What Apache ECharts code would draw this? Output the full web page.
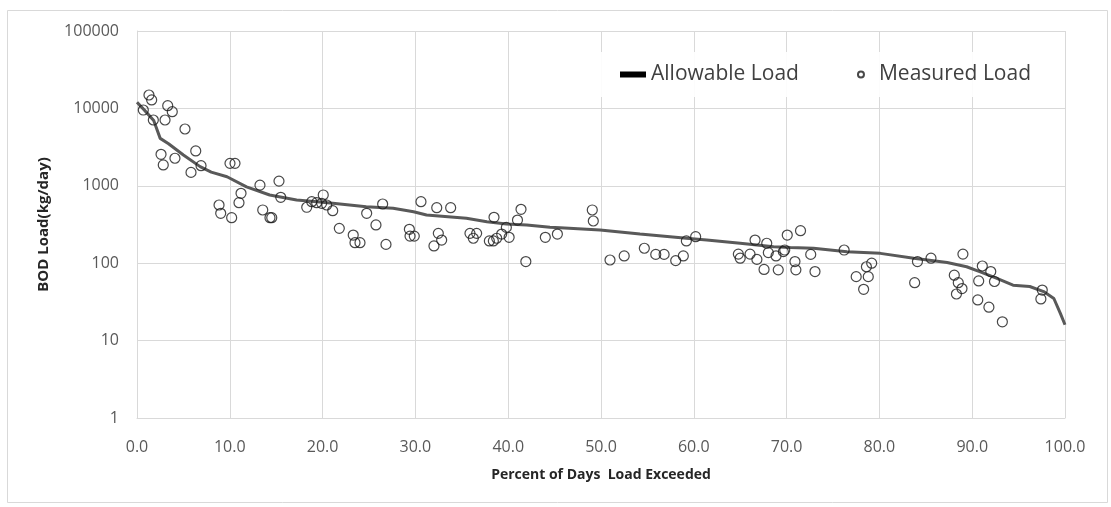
<!DOCTYPE html>
<html>
<head>
<meta charset="utf-8">
<script src="https://cdn.jsdelivr.net/npm/echarts@6/dist/echarts.min.js"></script>
<style>
html,body{margin:0;padding:0;background:#fff;}
#chart{width:1111px;height:507px;}
</style>
</head>
<body>
<div id="chart"></div>
<script>
// Allowable load curve (percent of days exceeded, kg/day)
var allowX = [0, 0.8, 1.8, 2.5, 3.4, 5.0, 6.8, 8.0, 9.7, 11.8, 14.3, 17.2, 19.4, 21.1, 24.7, 27.6, 29.8, 31.2, 35.5, 37.7, 39.8, 42.0, 44.5, 45.6, 49.9, 54.2, 59.2, 61.4, 65.0, 68.6, 70.4, 72.9, 76.5, 80.1, 83.7, 87.3, 89.4, 90.8, 92.6, 94.4, 96.2, 97.7, 98.8, 99.5, 100];
var allowY = [12000, 9500, 7000, 4100, 3500, 2500, 1770, 1500, 1310, 970, 760, 656, 623, 594, 537, 512, 463, 419, 380, 344, 321, 312, 291, 288, 268, 238, 210, 199, 181, 163, 160, 156, 141, 134, 116, 102, 90, 78, 64, 52, 50, 43, 35, 22.5, 16];

// Measured load points
var measX = [1.29, 1.58, 0.68, 3.31, 3.80, 1.76, 3.02, 5.17, 2.59, 2.83, 4.09, 6.33, 6.90, 5.82, 10.02, 10.56, 13.25, 15.30, 11.21, 10.99, 8.84, 9.02, 10.20, 13.55, 14.33, 14.52, 15.49, 18.29, 18.83, 19.36, 19.90, 20.07, 20.44, 21.09, 21.80, 23.30, 23.49, 24.03, 24.75, 25.75, 26.47, 26.83, 29.35, 29.42, 29.88, 30.60, 32.30, 32.47, 32.83, 32.00, 33.80, 35.88, 36.24, 36.60, 37.97, 38.40, 38.76, 39.30, 38.47, 39.80, 40.10, 41.00, 41.38, 41.90, 44.00, 45.30, 49.06, 49.17, 50.97, 52.50, 54.67, 55.90, 56.80, 58.05, 58.87, 59.20, 60.20, 64.80, 65.00, 66.06, 66.60, 66.80, 67.57, 67.86, 68.03, 68.86, 69.10, 69.65, 69.80, 70.07, 70.90, 71.00, 71.50, 72.60, 73.06, 76.20, 77.50, 78.30, 78.60, 78.80, 79.17, 83.80, 84.10, 85.56, 89.00, 88.07, 88.50, 88.90, 88.30, 91.09, 92.00, 90.70, 92.40, 90.60, 91.80, 93.25, 97.55, 97.40];
var measY = [14900, 12850, 9530, 10840, 9070, 7080, 7080, 5420, 2550, 1860, 2270, 2820, 1820, 1490, 1950, 1950, 1020, 1150, 800, 605, 565, 441, 387, 487, 387, 387, 710, 528, 623, 605, 594, 761, 565, 477, 282, 231, 184, 184, 441, 312, 582, 175, 274, 224, 224, 623, 521, 243, 199, 167, 521, 243, 210, 243, 194, 194, 210, 238, 392, 290, 216, 361, 497, 105, 216, 238, 487, 351, 110, 124, 156, 130, 130, 108, 124, 194, 220, 131, 116, 131, 199, 112, 83, 181, 137, 124, 82, 141, 148, 231, 105, 82, 263, 130, 78, 148, 67, 46, 90, 67, 100, 56, 105, 116, 131, 70, 56, 47, 40, 92, 78, 59, 58, 33.5, 27, 17.5, 45, 34.5];

var xTicks = [0, 10, 20, 30, 40, 50, 60, 70, 80, 90, 100];

var allowData = allowX.map(function (x, i) { return [x, allowY[i]]; });
var measData = measX.map(function (x, i) { return [x, measY[i]]; });

var chart = echarts.init(document.getElementById('chart'), null, {renderer: 'canvas'});
var labelFont = '"Open Sans", "Liberation Sans", sans-serif';
chart.setOption({
  animation: false,
  backgroundColor: '#ffffff',
  graphic: [{
    type: 'rect', left: 5, top: 8, z: -1,
    shape: {width: 1100, height: 492},
    style: {fill: 'none', stroke: '#d9d9d9', lineWidth: 1}
  }],
  grid: {left: 137, right: 46, top: 31, bottom: 89, containLabel: false},
  legend: {
    left: 600, top: 52,
    padding: [12, 20],
    backgroundColor: 'rgba(255,255,255,0.92)',
    itemWidth: 26, itemHeight: 6, itemGap: 58,
    textStyle: {fontFamily: labelFont, fontSize: 21, color: '#404040'},
    data: [
      {name: 'Allowable Load', icon: 'rect', itemStyle: {color: '#000000', borderWidth: 0}},
      {name: 'Measured Load', icon: 'circle'}
    ]
  },
  xAxis: {
    type: 'value', min: 0, max: 100, interval: 10,
    name: 'Percent of Days  Load Exceeded',
    nameLocation: 'middle', nameGap: 50,
    nameTextStyle: {fontFamily: labelFont, fontSize: 14, fontWeight: 'bold', color: '#262626'},
    axisLine: {show: true, lineStyle: {color: '#d9d9d9', width: 1}},
    axisTick: {show: false},
    axisLabel: {
      margin: 21, fontFamily: labelFont, fontSize: 16, color: '#595959',
      formatter: function (v) { return xTicks.indexOf(v) >= 0 ? v.toFixed(1) : ''; }
    },
    splitLine: {show: true, lineStyle: {color: '#d9d9d9', width: 1}}
  },
  yAxis: {
    type: 'log', logBase: 10, min: 1, max: 100000,
    name: 'BOD Load(kg/day)',
    nameLocation: 'middle', nameGap: 86,
    nameTextStyle: {fontFamily: labelFont, fontSize: 15, fontWeight: 'bold', color: '#262626'},
    axisLine: {show: true, lineStyle: {color: '#d9d9d9', width: 1}},
    axisTick: {show: false},
    axisLabel: {
      margin: 18, fontFamily: labelFont, fontSize: 16, color: '#595959',
      formatter: function (v) { return String(Math.round(v)); }
    },
    splitLine: {show: true, lineStyle: {color: '#d9d9d9', width: 1}}
  },
  series: [
    {
      name: 'Allowable Load', type: 'line', data: allowData,
      showSymbol: false, symbol: 'none', smooth: false,
      lineStyle: {color: '#595959', width: 3},
      itemStyle: {color: '#595959'},
      z: 2
    },
    {
      name: 'Measured Load', type: 'scatter', data: measData,
      symbol: 'circle', symbolSize: 10,
      itemStyle: {color: 'rgba(255,255,255,0)', borderColor: '#1a1a1a', borderWidth: 1.2},
      z: 3
    }
  ]
});
</script>
</body>
</html>
